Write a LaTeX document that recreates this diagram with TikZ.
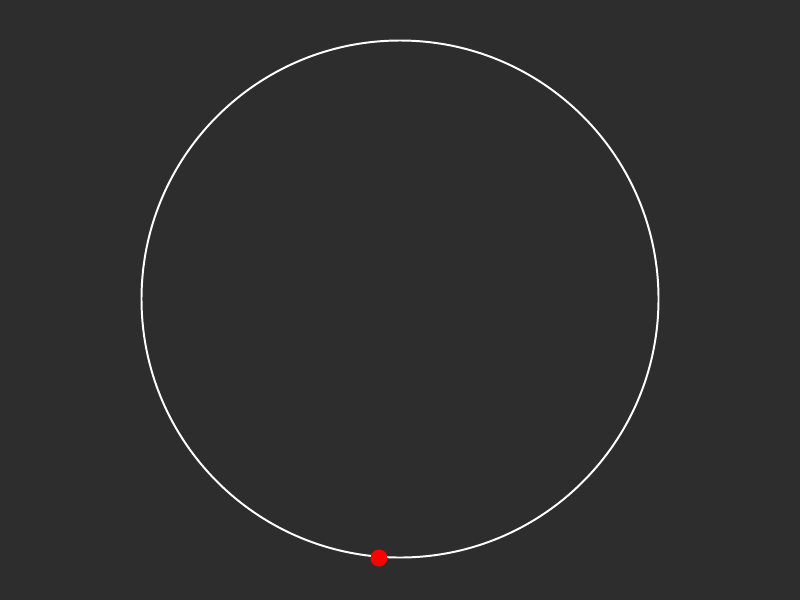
\documentclass[tikz,border=0pt]{standalone}
\definecolor{bgdark}{HTML}{2D2D2D}
\begin{document}
\begin{tikzpicture}[x=0.025cm, y=-0.025cm]
    % background
    \fill[bgdark] (0,0) rectangle (800,600);

    % orbit
    \coordinate (centre) at (400, 299);
    \draw[white, line width=1.4pt] (centre) circle[radius=258.5];

    % marker on the orbit
    \coordinate (marker) at (379, 558);
    \fill[red] (marker) circle[radius=8.5];
\end{tikzpicture}
\end{document}
